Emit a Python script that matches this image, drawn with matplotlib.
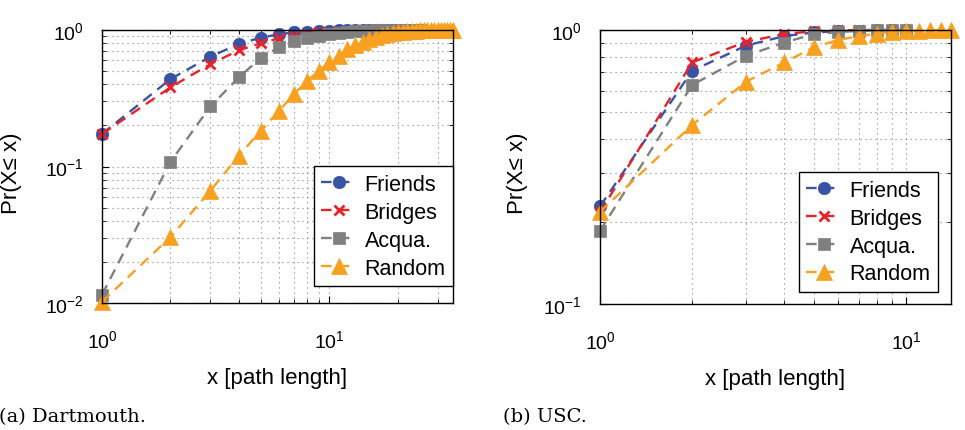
import numpy as np
import matplotlib
matplotlib.use('Agg')
import matplotlib.pyplot as plt
from matplotlib.ticker import LogLocator, NullFormatter

plt.rcParams['font.family'] = ['Liberation Sans', 'DejaVu Sans']
plt.rcParams['mathtext.fontset'] = 'custom'
plt.rcParams['mathtext.rm'] = 'Liberation Sans'
plt.rcParams['mathtext.it'] = 'Liberation Sans:italic'

# (a) Dartmouth -- CDF of path length
x_dart = [1, 2, 3, 4, 5, 6, 7, 8, 9, 10, 11, 12, 13, 14, 15, 16, 17, 18,
          19, 20, 21, 22, 23, 24, 25, 26, 27, 28, 29, 30, 31, 32, 33, 34, 35]
dart_friends = [0.173, 0.437, 0.638, 0.79, 0.88, 0.93, 0.96, 0.975, 0.985,
                0.99, 0.994, 0.996, 0.998, 0.999, 1.0, 1.0, 1.0, 1.0, 1.0, 1.0]
dart_bridges = [0.173, 0.38, 0.563, 0.71, 0.80, 0.87, 0.91, 0.94, 0.96,
                0.975, 0.984, 0.99, 0.994, 0.997, 0.999, 1.0, 1.0, 1.0, 1.0, 1.0]
dart_acqua = [0.0115, 0.108, 0.276, 0.45, 0.625, 0.746, 0.83, 0.878, 0.91,
              0.935, 0.955, 0.968, 0.978, 0.985, 0.99, 0.994, 0.996, 0.998,
              0.999, 1.0, 1.0, 1.0, 1.0, 1.0, 1.0]
dart_random = [0.0102, 0.0304, 0.0665, 0.12, 0.183, 0.255, 0.34, 0.425, 0.50,
               0.58, 0.648, 0.72, 0.775, 0.82, 0.86, 0.89, 0.915, 0.935, 0.95,
               0.962, 0.972, 0.979, 0.985, 0.989, 0.992, 0.995, 0.997, 0.998,
               0.999, 0.999, 1.0, 1.0, 1.0, 1.0, 1.0]

# (b) USC
x_usc = [1, 2, 3, 4, 5, 6, 7, 8, 9, 10, 11, 12, 13, 14]
usc_friends = [0.227, 0.71, 0.877, 0.95, 0.98, 0.99, 0.995, 0.998, 1.0, 1.0]
usc_bridges = [0.216, 0.762, 0.906, 0.967, 0.99, 0.997, 1.0, 1.0, 1.0, 1.0]
usc_acqua = [0.185, 0.63, 0.806, 0.90, 0.967, 0.982, 0.993, 0.998, 1.0, 1.0]
usc_random = [0.217, 0.45, 0.648, 0.762, 0.865, 0.92, 0.95, 0.97, 0.985,
              0.99, 0.995, 0.998, 1.0, 1.0]

labels = ['Friends', 'Bridges', 'Acqua.', 'Random']
colors = ['#3953a4', '#e8212b', '#808080', '#f8a01f']
markers = ['o', 'x', 's', '^']
msizes = [9, 7, 8.5, 11]

fig = plt.figure(figsize=(9.65, 4.31), dpi=100)
ax1 = fig.add_axes([102/965, 127/431, 351/965, 273/431])
ax2 = fig.add_axes([600/965, 126/431, 351/965, 274/431])

# axes, x values, series, xlim, ylim, legend anchor (lower right corner)
panels = [
    (ax1, x_dart, [dart_friends, dart_bridges, dart_acqua, dart_random],
     (1, 35), (0.01, 1), (1.0, 0.062)),
    (ax2, x_usc, [usc_friends, usc_bridges, usc_acqua, usc_random],
     (1, 14), (0.1, 1), (0.963, 0.044)),
]

for ax, xs, series, xl, yl, legpos in panels:
    for ys, lab, c, m, ms in zip(series, labels, colors, markers, msizes):
        ax.plot(xs[:len(ys)], ys, linestyle=(0, (4.5, 3)), linewidth=1.7,
                color=c, marker=m, markersize=ms,
                markeredgewidth=2 if m == 'x' else 0.5,
                markeredgecolor=c, label=lab, clip_on=False)
    ax.set_xscale('log')
    ax.set_yscale('log')
    ax.set_xlim(*xl)
    ax.set_ylim(*yl)
    ax.xaxis.set_minor_locator(LogLocator(base=10, subs=np.arange(2, 10), numticks=20))
    ax.yaxis.set_minor_locator(LogLocator(base=10, subs=np.arange(2, 10), numticks=20))
    ax.xaxis.set_minor_formatter(NullFormatter())
    ax.yaxis.set_minor_formatter(NullFormatter())
    ax.grid(True, which='both', linestyle=(0, (1, 3.5)), linewidth=0.8, color='#808080')
    ax.set_axisbelow(True)
    ax.tick_params(which='both', direction='in', top=True, right=True, labelsize=14)
    ax.tick_params(which='major', length=5)
    ax.tick_params(axis='y', which='major', pad=13)
    ax.tick_params(axis='x', which='major', pad=19)
    ax.tick_params(which='minor', length=3)
    for s in ax.spines.values():
        s.set_linewidth(1.0)
    ax.set_xlabel('x [path length]', fontsize=16)
    ax.set_ylabel('Pr(X\u2264 x)', fontsize=16)
    ax.xaxis.set_label_coords(0.5, -0.235)
    leg = ax.legend(loc='lower right', bbox_to_anchor=legpos,
                    borderaxespad=0, fontsize=15.5, frameon=True, fancybox=False,
                    edgecolor='black', framealpha=1, handlelength=1.6,
                    handletextpad=0.4, labelspacing=0.32, borderpad=0.35,
                    numpoints=1)
    leg.get_frame().set_linewidth(1.0)

ax1.yaxis.set_label_coords(-0.228, 0.48)
ax2.yaxis.set_label_coords(-0.205, 0.48)

fig.text(-0.001, 9/431, '(a) Dartmouth.', family='DejaVu Serif', fontsize=14,
         va='baseline', ha='left')
fig.text(503/965, 9/431, '(b) USC.', family='DejaVu Serif', fontsize=14,
         va='baseline', ha='left')

fig.savefig('out.png', dpi=100)
